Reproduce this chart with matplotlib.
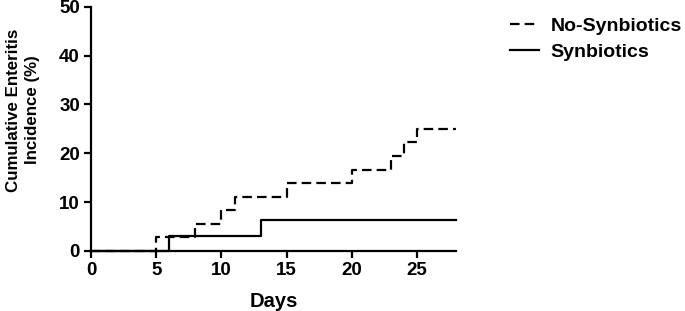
import matplotlib
matplotlib.use('Agg')
import matplotlib.pyplot as plt

# Kaplan-Meier style cumulative incidence
no_syn_days = [0, 5, 8, 10, 11, 15, 20, 23, 24, 25, 28]
no_syn_pct = [0, 2.78, 5.56, 8.33, 11.11, 13.89, 16.67, 19.44, 22.22, 25.0, 25.0]
syn_days = [0, 6, 13, 28]
syn_pct = [0, 3.125, 6.25, 6.25]

x_ticks = [0, 5, 10, 15, 20, 25]
y_ticks = [0, 10, 20, 30, 40, 50]

plt.rcParams['font.family'] = ['Liberation Sans', 'DejaVu Sans']
plt.rcParams['font.weight'] = 'bold'

fig = plt.figure(figsize=(6.85, 3.11), dpi=100)
ax = fig.add_axes([0.133, 0.193, 0.533, 0.785])

ax.step(no_syn_days, no_syn_pct, where='post', color='black', lw=1.6,
        dashes=(4.3, 2.3), label='No-Synbiotics', clip_on=False)
ax.step(syn_days, syn_pct, where='post', color='black', lw=1.6,
        label='Synbiotics', clip_on=False)

ax.set_xlim(0, 28)
ax.set_ylim(0, 50)
ax.set_xticks(x_ticks)
ax.set_yticks(y_ticks)
ax.spines['top'].set_visible(False)
ax.spines['right'].set_visible(False)
for s in ['left', 'bottom']:
    ax.spines[s].set_linewidth(1.6)
ax.tick_params(width=1.6, length=5, labelsize=13.5, direction='out', pad=3)
for lab in ax.get_xticklabels() + ax.get_yticklabels():
    lab.set_fontweight('bold')

ax.set_xlabel('Days', fontsize=14.5, fontweight='bold', labelpad=9)
ax.set_ylabel('Cumulative Enteritis\nIncidence (%)', fontsize=12.2,
              fontweight='bold', linespacing=1.38)
ax.yaxis.set_label_coords(-0.187, 0.578)
ax.yaxis.label.set_va('center')

fig.legend(loc='upper left', bbox_to_anchor=(0.744, 0.945), frameon=False,
           prop={'weight': 'bold', 'size': 14}, handlelength=1.5,
           handletextpad=0.6, labelspacing=0.45, borderpad=0, borderaxespad=0)

fig.savefig('out.png', dpi=100)
